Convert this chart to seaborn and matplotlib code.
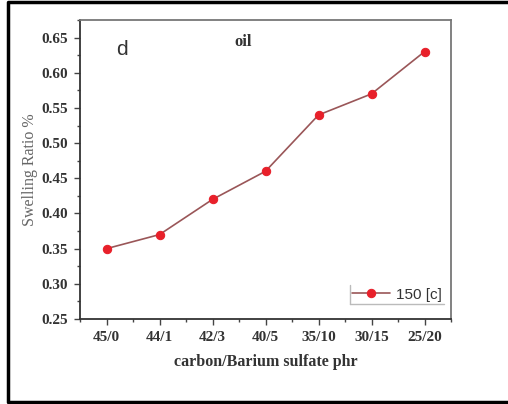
import matplotlib
matplotlib.use("Agg")
import matplotlib.pyplot as plt
from matplotlib.lines import Line2D
from matplotlib.ticker import AutoMinorLocator, MultipleLocator
import seaborn as sns

# data
ratios = ["45/0", "44/1", "42/3", "40/5", "35/10", "30/15", "25/20"]
swelling = [0.35, 0.37, 0.42, 0.46, 0.54, 0.57, 0.63]
series_label = "150 [c]"

sns.set_style("white")
plt.rcParams["font.family"] = ["Liberation Serif", "DejaVu Serif"]

fig = plt.figure(figsize=(5.08, 4.04), dpi=100)
ax = fig.add_axes([0.1575, 0.2104, 0.7303, 0.7401])

sns.lineplot(x=ratios, y=swelling, ax=ax, color="#9a5658", linewidth=1.2,
             marker="o", markersize=6, markerfacecolor="#e8202a",
             markeredgecolor="#e8202a", label=series_label, sort=False)

ax.set_xlim(-0.5, 6.5)
ax.yaxis.set_minor_locator(AutoMinorLocator(2))
ax.set_xticks(range(len(ratios)))
ax.set_xticks([i + 0.5 for i in range(-1, len(ratios))], minor=True)
ax.set_xticklabels(ratios)
ax.set_yticks([0.25 + 0.05 * i for i in range(9)])
ax.set_yticklabels([f"{0.25 + 0.05 * i:.2f}" for i in range(9)])
ax.set_ylim(0.25, 0.675)

ax.tick_params(axis="both", which="major", direction="out", length=4, width=1,
               color="#444444", labelsize=11, pad=5, bottom=True, left=True)
ax.tick_params(axis="both", which="minor", direction="out", length=2.5, width=1,
               color="#444444", bottom=True, left=True)
for lab in ax.get_xticklabels() + ax.get_yticklabels():
    lab.set_fontweight("bold")
    lab.set_color("#333333")

for side in ["left", "bottom"]:
    ax.spines[side].set_color("#333333")
    ax.spines[side].set_linewidth(1.3)
for side in ["top", "right"]:
    ax.spines[side].set_color("#777777")
    ax.spines[side].set_linewidth(1.3)

ax.set_xlabel("carbon/Barium sulfate phr", fontsize=11.5, fontweight="bold",
              color="#333333", labelpad=7)
ax.set_ylabel("Swelling Ratio %", fontsize=11.5, color="#666666", labelpad=2)

ax.text(0.113, 0.9, "d", transform=ax.transAxes, fontsize=15,
        family="Liberation Sans", color="#333333", ha="center", va="center")
ax.text(0.44, 0.925, "oil", transform=ax.transAxes, fontsize=12,
        fontweight="bold", color="#333333", ha="center", va="center")

leg = ax.legend(loc="lower right", bbox_to_anchor=(0.981, 0.05), frameon=False,
                handlelength=2.5, handletextpad=0.35, fontsize=11,
                borderpad=0.15, borderaxespad=0)
for t in leg.get_texts():
    t.set_family("Liberation Sans")
    t.set_color("#333333")

fig.canvas.draw()
bb = leg.get_window_extent().transformed(fig.transFigure.inverted())
fig.add_artist(Line2D([bb.x0, bb.x0], [bb.y0, bb.y1], color="#bbbbbb", lw=1))
fig.add_artist(Line2D([bb.x0, bb.x1], [bb.y0, bb.y0], color="#bbbbbb", lw=1))

# outer black frame of the original figure
fig.add_artist(Line2D([1.05, 0.016, 0.016, 1.05], [0.994, 0.994, 0.005, 0.005],
                      color="black", lw=2.5))

fig.savefig("out.png", dpi=100)
